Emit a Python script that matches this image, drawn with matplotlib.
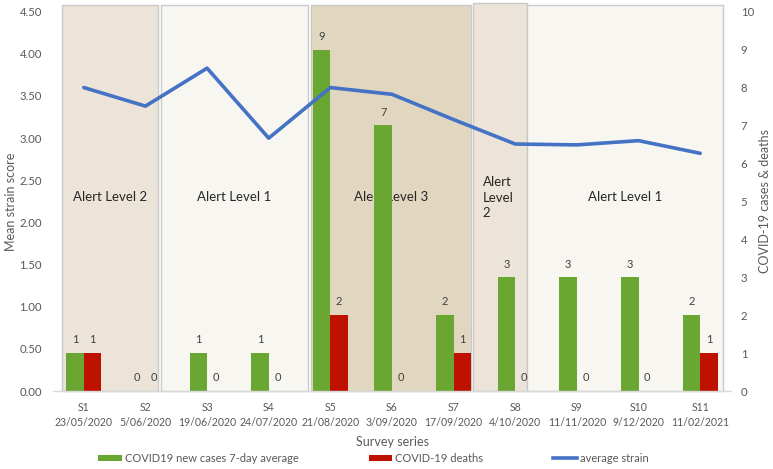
import matplotlib
matplotlib.use('Agg')
import matplotlib.pyplot as plt
from matplotlib.patches import Rectangle, Patch
from matplotlib.lines import Line2D
import numpy as np

plt.rcParams['font.family'] = ['Lato', 'DejaVu Sans']

surveys = ['S1', 'S2', 'S3', 'S4', 'S5', 'S6', 'S7', 'S8', 'S9', 'S10', 'S11']
dates = ['23/05/2020', '5/06/2020', '19/06/2020', '24/07/2020', '21/08/2020',
         '3/09/2020', '17/09/2020', '4/10/2020', '11/11/2020', '9/12/2020', '11/02/2021']
cases = [1, 0, 1, 1, 9, 7, 2, 3, 3, 3, 2]
deaths = [1, 0, 0, 0, 2, 0, 1, 0, 0, 0, 1]
strain = [3.60, 3.38, 3.83, 3.00, 3.60, 3.52, 3.22, 2.93, 2.92, 2.97, 2.82]

alert_labels = ['Alert Level 2', 'Alert Level 1', 'Alert Level 3', 'Alert\nLevel\n2', 'Alert Level 1']
alert_spans = [(-0.36, 1.21), (1.25, 3.63), (3.68, 6.28), (6.31, 7.19), (7.19, 10.37)]
alert_colors = ['#ECE4D8', '#F8F6F1', '#E1D7C1', '#ECE4D8', '#F8F6F1']

green = '#6AA632'
red = '#BE1100'
blue = '#4472C4'
tick_color = '#595959'

fig = plt.figure(figsize=(7.73, 4.69), dpi=100)
ax = fig.add_axes([53 / 773, 78 / 469, 678 / 773, 379.3 / 469])
ax2 = ax.twinx()

x = np.arange(len(surveys))
w = 0.284

# Alert level boxes (behind everything, on ax2)
for (a, b), lab, col in zip(alert_spans, alert_labels, alert_colors):
    top = 1.023 if '\n' in lab else 1.0177
    r = Rectangle((a, 0), b - a, top, transform=ax2.get_xaxis_transform(),
                  facecolor=col, edgecolor='#C9C9C9', linewidth=1.0,
                  clip_on=False, zorder=0)
    ax2.add_patch(r)
    if '\n' in lab:
        ax2.text(a + 0.16, 0.509, lab, transform=ax2.get_xaxis_transform(),
                 ha='left', va='center', fontsize=9.5, color='#262626',
                 linespacing=1.35, zorder=1)
    else:
        ax2.text((a + b) / 2, 0.511, lab, transform=ax2.get_xaxis_transform(),
                 ha='center', va='center', fontsize=9.5, color='#262626', zorder=1)

b1 = ax2.bar(x - w / 2, cases, width=w, color=green, zorder=2)
b2 = ax2.bar(x + w / 2, deaths, width=w, color=red, zorder=2)
for bars, vals in ((b1, cases), (b2, deaths)):
    for rect, v in zip(bars, vals):
        ax2.annotate(f'{v}', (rect.get_x() + rect.get_width() / 2, v),
                     xytext=(0, 9.5), textcoords='offset points',
                     ha='center', va='center', fontsize=8, color='#404040', zorder=3)

ax2.set_ylim(0, 10)
ax2.set_yticks(np.arange(0, 11, 1))
ax2.set_ylabel('COVID-19 cases & deaths', fontsize=9, color=tick_color, rotation=90,
               ha='center', va='center')
ax2.yaxis.set_label_coords((765 - 53) / 678, 0.5)

ax.set_zorder(ax2.get_zorder() + 1)
ax.patch.set_visible(False)
ax.plot(x, strain, color=blue, linewidth=2.6, zorder=4, solid_capstyle='round')
ax.set_ylim(0, 4.5)
ax.set_yticks(np.arange(0, 4.51, 0.5))
ax.set_yticklabels([f'{v:.2f}' for v in np.arange(0, 4.51, 0.5)])
ax.set_xlim(-0.5, len(surveys) - 0.5)
ax.set_xticks(x)
ax.set_xticklabels([f'{s}\n{d}' for s, d in zip(surveys, dates)], linespacing=1.45)
ax.set_ylabel('Mean strain score', fontsize=9, color=tick_color, ha='center', va='center')
ax.yaxis.set_label_coords((11 - 53) / 678, 0.5)
ax.set_xlabel('Survey series', fontsize=9, color=tick_color, ha='center', va='center')
ax.xaxis.set_label_coords(0.5, -(442 - 391) / 379.3)

for a_ in (ax, ax2):
    for s in a_.spines.values():
        s.set_visible(False)
    a_.tick_params(length=0, labelsize=8.2, labelcolor=tick_color)
ax.tick_params(axis='x', labelsize=7.6, pad=8)
ax.tick_params(axis='y', pad=8)
ax2.tick_params(axis='y', pad=7)
ax.spines['bottom'].set_visible(True)
ax.spines['bottom'].set_color('#D9D9D9')
ax.spines['bottom'].set_linewidth(1.0)

handles = [Patch(facecolor=green), Patch(facecolor=red), Line2D([0], [0], color=blue, linewidth=2.6)]
labels = ['COVID19 new cases 7-day average', 'COVID-19 deaths', 'average strain']
fig.legend(handles, labels, loc='center', bbox_to_anchor=(373.5 / 773, 11 / 469), ncol=3,
           frameon=False, fontsize=8, handlelength=2.1, handleheight=0.45,
           handletextpad=0.3, columnspacing=6.3, labelcolor=tick_color)

fig.savefig('out.png', dpi=100, facecolor='white')
